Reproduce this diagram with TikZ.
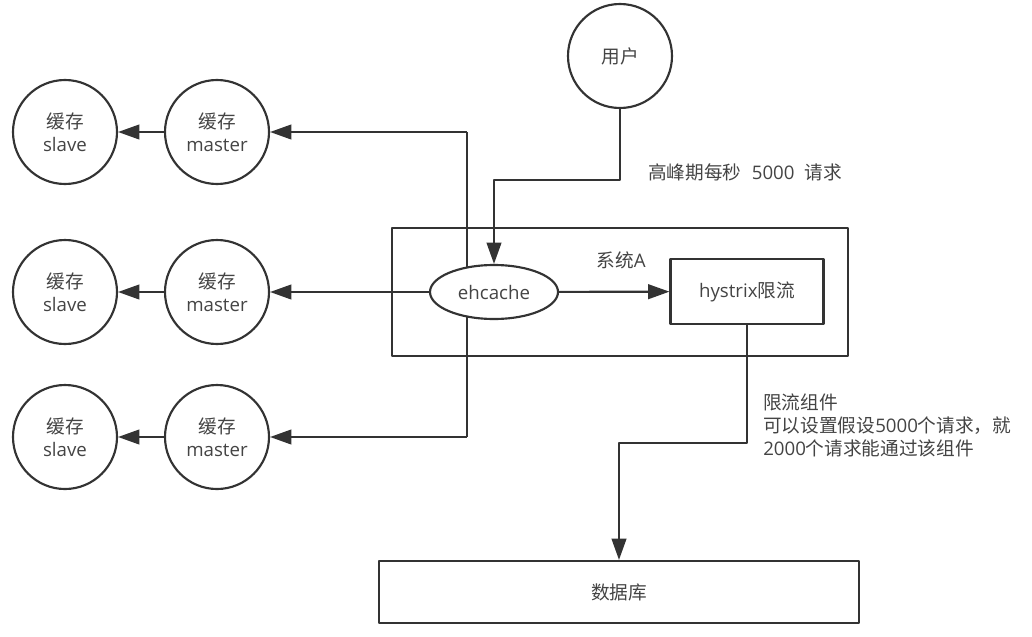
\documentclass[tikz,border=0pt]{standalone}
\usepackage{fontspec}
\setmainfont{Open Sans}
\newfontfamily\cjk{Noto Sans CJK SC}
\usetikzlibrary{arrows.meta,backgrounds,shapes.geometric}
\definecolor{ink}{HTML}{333333}
\definecolor{txt}{HTML}{444444}
\tikzset{
  cache/.style={circle,draw=ink,line width=1.6pt,fill=white,minimum size=78pt,inner sep=0pt,align=center,text=txt},
  box/.style={rectangle,draw=ink,line width=1.6pt,fill=white,inner sep=0pt,text=txt},
  arr/.style={-{Triangle[length=16pt,width=11pt]},draw=ink,line width=1.6pt},
  link/.style={draw=ink,line width=1.6pt},
}
\begin{document}
\begin{tikzpicture}[x=0.75pt,y=-0.75pt,font=\fontsize{14}{17.25}\selectfont,line join=round]
\begin{scope}[on background layer]
  \fill[white] (0,0) rectangle (1032,636);
\end{scope}
\useasboundingbox (0,0) rectangle (1032,636);
% 系统A
\node[box,fill=none,minimum width=342pt,minimum height=96pt] (sysA) at (620,292) {};
\node[text=txt,inner sep=0pt] (sysAlabel) at (621,260) {{\cjk 系统}A};
\node[cache] (user) at (620,56) {\cjk 用户};
\node[ellipse,draw=ink,line width=1.6pt,fill=white,minimum width=96pt,minimum height=40.5pt,inner sep=0pt,text=txt] (ehcache) at (494,292) {ehcache};
\node[box,minimum width=114.75pt,minimum height=48.75pt] (hystrix) at (747,291.5) {hystrix{\cjk 限流}};
\node[box,minimum width=360pt,minimum height=46.5pt] (db) at (619,592) {\cjk 数据库};
% 缓存
\foreach \i/\y in {1/132,2/292,3/437} {
  \node[cache] (slave\i) at (65,\y) {{\cjk 缓存}\\slave};
  \node[cache] (master\i) at (217,\y) {{\cjk 缓存}\\master};
  \draw[arr] (master\i) -- (slave\i);
}
% 请求
\coordinate (bend1) at (620,180);
\draw[arr] (user) -- (bend1) -| (ehcache);
\node[anchor=west,text=txt,inner sep=0pt] (peak) at (648,172) {{\cjk 高峰期每秒}\hspace{0.55em}5000\hspace{0.55em}{\cjk 请求}};
\draw[arr] (ehcache) -- (hystrix);
\coordinate (bend2) at (747,443);
\draw[arr] (hystrix.south) -- (bend2) -| (db.north);
\node[anchor=west,align=left,text=txt,inner sep=0pt] (note) at (763,425) {{\cjk 限流组件}\\{\cjk 可以设置假设}5000{\cjk 个请求，就}\\2000{\cjk 个请求能通过该组件}};
% ehcache -> master
\coordinate (t1) at (467,132);
\coordinate (t3) at (467,437);
\begin{scope}[on background layer]
  \draw[link] (t1) -- (t3);
\end{scope}
\draw[arr] (t1) -- (master1);
\draw[arr] (ehcache) -- (master2);
\draw[arr] (t3) -- (master3);
\end{tikzpicture}
\end{document}
